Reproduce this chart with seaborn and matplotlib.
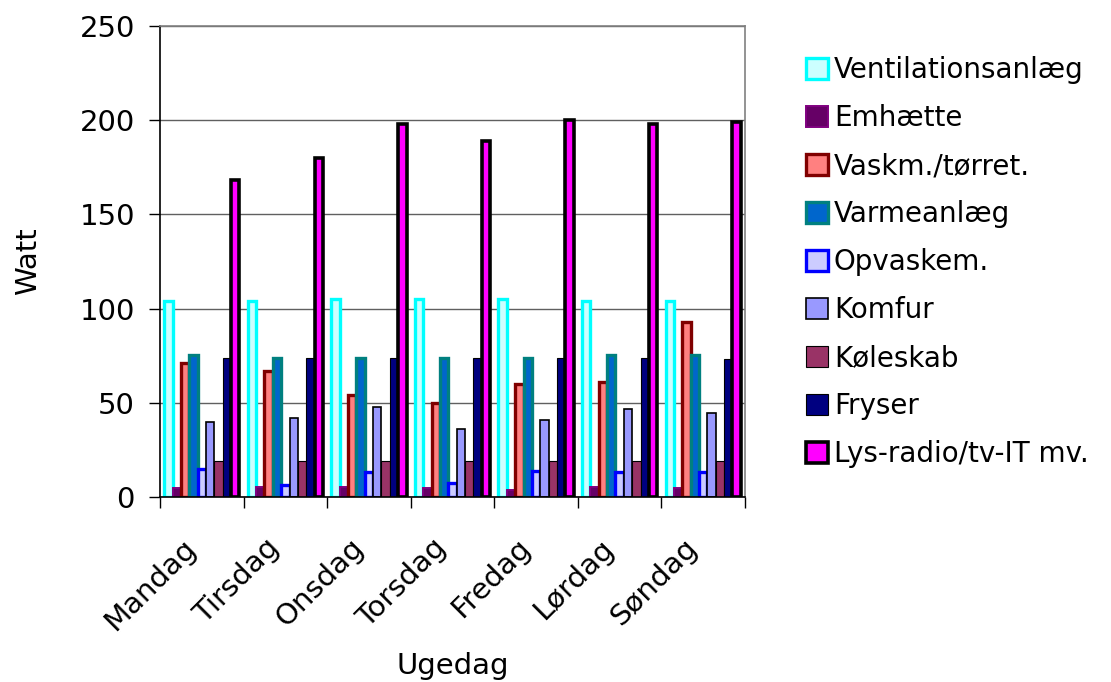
import matplotlib
matplotlib.use("Agg")
import matplotlib.pyplot as plt
import matplotlib.transforms as mtransforms
from matplotlib.patches import Patch
import seaborn as sns
import pandas as pd
import numpy as np

days = ["Mandag", "Tirsdag", "Onsdag", "Torsdag", "Fredag", "Lørdag", "Søndag"]
series = ["Ventilationsanlæg", "Emhætte", "Vaskm./tørret.", "Varmeanlæg",
          "Opvaskem.", "Komfur", "Køleskab", "Fryser", "Lys-radio/tv-IT mv."]

ventilation = [104, 104, 105, 105, 105, 104, 104]
emhaette = [4.5, 5.5, 5.5, 4.5, 3.5, 5.5, 4.5]
vaskemaskine = [71, 67, 54, 50, 60, 61, 93]
varmeanlaeg = [75.5, 74, 74, 74, 74, 75.5, 75.5]
opvask = [15, 6.5, 13, 7.5, 14, 13.5, 13.5]
komfur = [40, 42, 47.5, 36, 41, 46.5, 44.5]
koeleskab = [19, 19, 19, 19, 19, 19, 19]
fryser = [74, 74, 74, 74, 74, 74, 73.5]
lys = [168, 180, 198, 189, 200, 198, 199]

values = [ventilation, emhaette, vaskemaskine, varmeanlaeg, opvask,
          komfur, koeleskab, fryser, lys]

face_colors = ["#CCFFFF", "#660066", "#FF8080", "#0066CC", "#CCCCFF",
               "#9999FF", "#993366", "#000080", "#FF00FF"]
edge_colors = ["#00FFFF", "#800080", "#800000", "#008080", "#0000FF",
               "#000000", "#000000", "#000000", "#000000"]
edge_widths = [2.4, 1.4, 2.4, 2.4, 2.4, 1.2, 0.8, 0.8, 2.6]

rows = []
for name, vals in zip(series, values):
    for d, v in zip(days, vals):
        rows.append({"Ugedag": d, "Apparat": name, "Watt": v})
df = pd.DataFrame(rows)

sns.set_theme(style="white")
plt.rcParams["font.family"] = ["DejaVu Sans"]
plt.rcParams["text.color"] = "black"
plt.rcParams["axes.labelcolor"] = "black"
plt.rcParams["xtick.color"] = "black"
plt.rcParams["ytick.color"] = "black"

fig = plt.figure(figsize=(11.11, 6.82), dpi=100)
ax = fig.add_axes([0.144, 0.2713, 0.5266, 0.6906])

sns.barplot(data=df, x="Ugedag", y="Watt", hue="Apparat", order=days,
            hue_order=series, palette=face_colors, width=0.9, dodge=True,
            ax=ax, legend=False, saturation=1)

for cont, ec, lw in zip(ax.containers, edge_colors, edge_widths):
    for bar in cont:
        bar.set_edgecolor(ec)
        bar.set_linewidth(lw)

ax.set_ylim(0, 250)
ax.set_xlim(-0.5, len(days) - 0.5)
ax.set_yticks([0, 50, 100, 150, 200, 250])
ax.yaxis.grid(True, color="#606060", linewidth=1.0)
ax.set_axisbelow(True)

ax.tick_params(axis="y", which="major", direction="out", length=8,
               width=1, color="black", labelsize=21, left=True, pad=10)
ax.tick_params(axis="x", which="major", length=0, labelsize=21, pad=12)
ax.set_xticks(np.arange(-0.5, len(days), 1.0), minor=True)
ax.tick_params(axis="x", which="minor", direction="out", length=8,
               width=1, color="black", bottom=True)

# slide the rotated day names a little further along their reading direction
shift = mtransforms.ScaledTranslation(-0.20, -0.20, fig.dpi_scale_trans)
for lbl in ax.get_xticklabels():
    lbl.set_rotation(45)
    lbl.set_ha("right")
    lbl.set_rotation_mode("anchor")
    lbl.set_transform(lbl.get_transform() + shift)

for side in ["left", "bottom"]:
    ax.spines[side].set_color("black")
    ax.spines[side].set_linewidth(1.2)
for side in ["top", "right"]:
    ax.spines[side].set_color("#808080")
    ax.spines[side].set_linewidth(1.2)

ax.set_ylabel("Watt", fontsize=21, labelpad=27)
ax.set_xlabel("Ugedag", fontsize=21, labelpad=12)

handles = [Patch(facecolor=fc, edgecolor=ec, linewidth=lw)
           for fc, ec, lw in zip(face_colors, edge_colors, edge_widths)]
fig.legend(handles, series, loc="upper left", bbox_to_anchor=(0.7155, 0.934),
           frameon=False, fontsize=20, handlelength=0.8, handleheight=0.8,
           handletextpad=0.2, labelspacing=0.72, borderaxespad=0)

fig.savefig("out.png", dpi=100, facecolor="white")
